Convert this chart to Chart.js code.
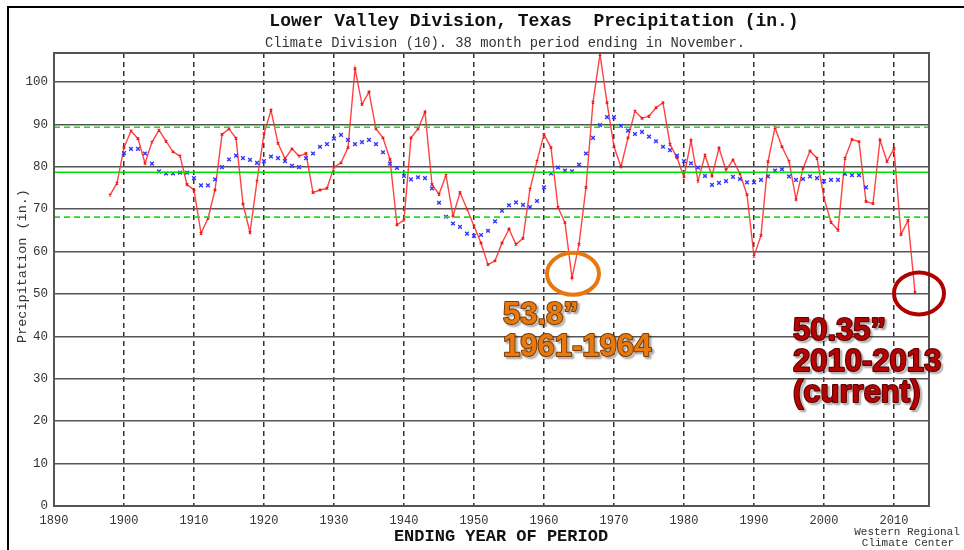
<!DOCTYPE html>
<html><head><meta charset="utf-8">
<script src="https://cdn.jsdelivr.net/npm/chart.js@4.4.1/dist/chart.umd.min.js"></script>
<style>html,body{margin:0;padding:0;background:#fff;}#wrap{width:964px;height:550px;position:relative;}</style>
</head><body><div id="wrap"><canvas id="c" width="964" height="550"></canvas></div>
<script>
const redYears = [1898,1899,1900,1901,1902,1903,1904,1905,1906,1907,1908,1909,1910,1911,1912,1913,1914,1915,1916,1917,1918,1919,1920,1921,1922,1923,1924,1925,1926,1927,1928,1929,1930,1931,1932,1933,1934,1935,1936,1937,1938,1939,1940,1941,1942,1943,1944,1945,1946,1947,1948,1949,1950,1951,1952,1953,1954,1955,1956,1957,1958,1959,1960,1961,1962,1963,1964,1965,1966,1967,1968,1969,1970,1971,1972,1973,1974,1975,1976,1977,1978,1979,1980,1981,1982,1983,1984,1985,1986,1987,1988,1989,1990,1991,1992,1993,1994,1995,1996,1997,1998,1999,2000,2001,2002,2003,2004,2005,2006,2007,2008,2009,2010,2011,2012,2013];
const redValues = [73.3,76.1,84.5,88.4,86.6,80.8,85.8,88.6,86.0,83.5,82.5,75.8,74.5,64.3,67.8,74.5,87.6,88.9,86.7,71.2,64.5,76.6,87.8,93.3,85.5,81.9,84.2,82.5,83.1,73.9,74.5,74.9,79.9,80.9,84.5,103.1,94.7,97.6,88.9,86.8,81.7,66.3,67.4,86.8,88.9,92.9,75.8,73.5,78.0,68.4,73.9,70.0,66.0,62.0,56.9,57.8,62.0,65.3,61.7,63.1,74.7,81.3,87.6,84.5,70.4,66.8,53.8,61.7,75.1,95.2,106.5,95.1,84.7,80.0,86.8,93.1,91.4,91.9,93.9,95.1,85.3,82.1,77.6,86.2,76.6,82.7,77.8,84.4,79.2,81.6,78.3,73.4,58.9,63.8,81.2,89.2,84.7,81.3,72.3,79.6,83.7,82.0,72.6,66.9,65.0,82.0,86.4,85.9,71.8,71.3,86.3,81.2,84.3,64.0,67.3,50.35];
const blueYears = [1900,1901,1902,1903,1904,1905,1906,1907,1908,1909,1910,1911,1912,1913,1914,1915,1916,1917,1918,1919,1920,1921,1922,1923,1924,1925,1926,1927,1928,1929,1930,1931,1932,1933,1934,1935,1936,1937,1938,1939,1940,1941,1942,1943,1944,1945,1946,1947,1948,1949,1950,1951,1952,1953,1954,1955,1956,1957,1958,1959,1960,1961,1962,1963,1964,1965,1966,1967,1968,1969,1970,1971,1972,1973,1974,1975,1976,1977,1978,1979,1980,1981,1982,1983,1984,1985,1986,1987,1988,1989,1990,1991,1992,1993,1994,1995,1996,1997,1998,1999,2000,2001,2002,2003,2004,2005,2006];
const blueValues = [83.2,84.2,84.2,83.1,80.7,78.9,78.4,78.4,78.6,78.6,77.3,75.6,75.6,77.0,79.9,81.7,82.6,82.0,81.6,80.9,81.3,82.4,82.0,81.3,80.2,79.9,82.0,83.1,84.7,85.3,86.6,87.5,86.3,85.3,85.8,86.3,85.3,83.4,80.7,79.7,77.8,77.0,77.5,77.3,74.9,71.5,68.2,66.6,65.8,64.2,63.7,63.9,64.9,67.1,69.6,70.9,71.6,71.0,70.5,71.9,75.1,78.4,79.8,79.1,78.9,80.5,83.1,86.8,89.8,91.7,91.7,89.6,88.5,87.7,88.2,87.1,86.0,84.7,83.9,82.6,81.3,80.8,79.8,77.8,75.7,76.2,76.6,77.6,77.1,76.3,76.3,76.9,77.7,79.1,79.4,77.7,76.9,77.1,77.7,77.3,76.6,76.9,76.9,78.3,78.0,78.0,75.1];
const meanValue = 78.7;
const upperValue = 89.3;
const lowerValue = 68.1;
const xTicks = [1890,1900,1910,1920,1930,1940,1950,1960,1970,1980,1990,2000,2010];
const yTicks = [0,10,20,30,40,50,60,70,80,90,100];
const xMin = 1890, xMax = 2015, yMin = 0, yMax = 106.8;
const annoLow = {year:1964, value:53.8, lines:['53.8\u201d','1961-1964']};
const annoNow = {year:2013, value:50.35, lines:['50.35\u201d','2010-2013','(current)']};

const MONO = '"Liberation Mono", "DejaVu Sans Mono", monospace';

const decor = {
  id:'decor',
  beforeDraw(chart){
    const c = chart.ctx;
    c.save();
    c.fillStyle='#fff'; c.fillRect(0,0,chart.width,chart.height);
    c.strokeStyle='#000'; c.lineWidth=2;
    c.beginPath(); c.moveTo(8,550); c.lineTo(8,7); c.lineTo(964,7); c.stroke();
    c.restore();
  },
  afterDatasetsDraw(chart){
    const c = chart.ctx, a = chart.chartArea;
    c.save();
    c.strokeStyle='#555'; c.lineWidth=2;
    c.strokeRect(a.left, a.top, a.right-a.left, a.bottom-a.top);
    c.restore();
  },
  afterDraw(chart){
    const c = chart.ctx, xs = chart.scales.x, ys = chart.scales.y;
    c.save();
    c.fillStyle='#111'; c.textAlign='center'; c.textBaseline='middle';
    c.font = 'bold 18px '+MONO;
    c.fillText('Lower Valley Division, Texas  Precipitation (in.)', 534, 21);
    c.fillStyle='#333';
    c.font = '13.8px '+MONO;
    c.fillText('Climate Division (10). 38 month period ending in November.', 505, 43);
    c.fillStyle='#111';
    c.font = 'bold 17px '+MONO;
    c.fillText('ENDING YEAR OF PERIOD', 501, 537);
    c.fillStyle='#333';
    c.font = '11px '+MONO;
    c.fillText('Western Regional', 907, 532);
    c.fillText('Climate Center', 908, 543);
    c.save();
    c.translate(22, 266); c.rotate(-Math.PI/2);
    c.font = '13.5px '+MONO; c.fillStyle='#333';
    c.fillText('Precipitation (in.)', 0, 0);
    c.restore();

    function ring(px, py, rx, ry, col){
      c.save(); c.strokeStyle=col; c.lineWidth=4;
      c.beginPath(); c.ellipse(px, py, rx, ry, 0, 0, Math.PI*2); c.stroke(); c.restore();
    }
    const p1x = xs.getPixelForValue(annoLow.year), p1y = ys.getPixelForValue(annoLow.value);
    const p2x = xs.getPixelForValue(annoNow.year), p2y = ys.getPixelForValue(annoNow.value);
    ring(p1x+1, p1y-4, 26, 21, '#e8770e');
    ring(p2x+4, p2y+1, 25, 21, '#b00000');

    function label(lines, x, y0, step, fill, stroke){
      c.save();
      c.font = 'bold 31px "Liberation Sans", Arial, sans-serif';
      c.textAlign='left'; c.textBaseline='alphabetic';
      lines.forEach((t,i)=>{
        const y = y0 + i*step;
        c.shadowColor='rgba(0,0,0,0.4)'; c.shadowOffsetX=2; c.shadowOffsetY=2; c.shadowBlur=2;
        c.lineJoin='round'; c.lineWidth=2; c.strokeStyle=stroke;
        c.strokeText(t, x, y);
        c.shadowColor='transparent';
        c.fillStyle=fill; c.fillText(t, x, y);
      });
      c.restore();
    }
    label(annoLow.lines, p1x-69, p1y+46, 32, '#e8790f', '#7a3d05');
    label(annoNow.lines, p2x-122, p2y+48, 31, '#b30303', '#5a0000');
    c.restore();
  }
};

const ctx = document.getElementById('c').getContext('2d');
new Chart(ctx, {
  type:'scatter',
  data:{datasets:[
    {data:[{x:xMin,y:meanValue},{x:xMax,y:meanValue}], showLine:true, borderColor:'#00e000', borderWidth:1.6, pointRadius:0},
    {data:[{x:xMin,y:upperValue},{x:xMax,y:upperValue}], showLine:true, borderColor:'#22dd22', borderWidth:1.6, borderDash:[6,4], pointRadius:0},
    {data:[{x:xMin,y:lowerValue},{x:xMax,y:lowerValue}], showLine:true, borderColor:'#22dd22', borderWidth:1.6, borderDash:[6,4], pointRadius:0},
    {data:blueYears.map((x,i)=>({x, y:blueValues[i]})), showLine:false, pointStyle:'crossRot', pointRadius:2.6, borderWidth:1.4, borderColor:'#3434ff', pointBorderColor:'#3434ff'},
    {data:redYears.map((x,i)=>({x, y:redValues[i]})), showLine:true, borderColor:'rgba(255,45,45,0.9)', borderWidth:1.4, pointStyle:'crossRot', pointRadius:1.8, pointBorderColor:'rgba(230,20,20,0.95)', pointBorderWidth:1.2, tension:0}
  ]},
  options:{
    responsive:false, animation:false, devicePixelRatio:1,
    layout:{padding:{left:0,right:35,top:53,bottom:24}},
    plugins:{legend:{display:false}, tooltip:{enabled:false}},
    scales:{
      x:{type:'linear', min:xMin, max:xMax,
        afterBuildTicks:s=>{s.ticks = xTicks.map(v=>({value:v}));},
        afterFit:s=>{s.height=20;},
        grid:{color:'#333', lineWidth:1.5, drawTicks:false},
        border:{display:false, dash:[5,4]},
        ticks:{padding:8, color:'#333', font:{family:MONO, size:12}, maxRotation:0, callback:v=>String(v)}
      },
      y:{type:'linear', min:yMin, max:yMax,
        afterBuildTicks:s=>{s.ticks = yTicks.map(v=>({value:v}));},
        afterFit:s=>{s.width=54;},
        grid:{color:'#555', lineWidth:1.5, drawTicks:false},
        border:{display:false},
        ticks:{padding:6, color:'#333', font:{family:MONO, size:12.5}, callback:v=>String(v)}
      }
    }
  },
  plugins:[decor]
});
</script></body></html>
